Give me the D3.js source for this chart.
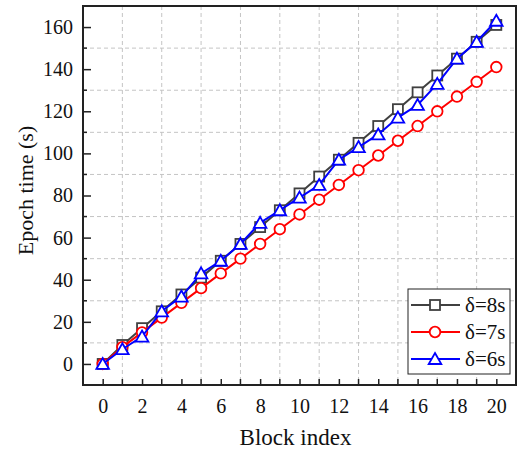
<!DOCTYPE html>
<html>
<head>
<meta charset="utf-8">
<script src="https://cdn.jsdelivr.net/npm/d3@7"></script>
<style>
  body { margin: 0; background: #fff; }
  svg text { font-family: "Liberation Serif", "Times New Roman", serif; }
</style>
</head>
<body>
<div id="chart"></div>
<script>
var blockIndex = d3.range(0, 21);
var delta8 = [0, 9, 17, 25, 33, 41, 49, 57, 65, 73, 81, 89, 97, 105, 113, 121, 129, 137, 145, 153, 161];
var delta7 = [0, 8, 15, 22, 29, 36, 43, 50, 57, 64, 71, 78, 85, 92, 99, 106, 113, 120, 127, 134, 141];
var delta6 = [0, 7, 13, 25, 32, 43, 49, 57, 67, 73, 79, 85, 97, 103, 109, 117, 123, 133, 145, 153, 163];
var seriesNames = ["\u03b4=8s", "\u03b4=7s", "\u03b4=6s"];
var xTicks = [0, 2, 4, 6, 8, 10, 12, 14, 16, 18, 20];
var yTicks = [0, 20, 40, 60, 80, 100, 120, 140, 160];

var W = 519, H = 451;
var margin = { top: 6, right: 3, bottom: 66, left: 83 },
    width = W - margin.left - margin.right,
    height = H - margin.top - margin.bottom;

var svg = d3.select("#chart")
    .append("svg")
    .attr("width", W)
    .attr("height", H)
    .append("g")
    .attr("transform", "translate(" + margin.left + "," + margin.top + ")");

var x = d3.scaleLinear().domain([-1, 21]).range([0, width]);
var y = d3.scaleLinear().domain([-10, 170]).range([height, 0]);

// grid sits on the minor positions
var xMinor = d3.range(1, 21, 2);
var yMinor = d3.range(10, 170, 20);

svg.append("g").selectAll("line")
    .data(xMinor).enter().append("line")
    .attr("x1", function (d) { return x(d); })
    .attr("x2", function (d) { return x(d); })
    .attr("y1", 0).attr("y2", height)
    .attr("stroke", "#c4c4c4").attr("stroke-width", 1)
    .attr("stroke-dasharray", "4,3");

svg.append("g").selectAll("line")
    .data(yMinor).enter().append("line")
    .attr("y1", function (d) { return y(d); })
    .attr("y2", function (d) { return y(d); })
    .attr("x1", 0).attr("x2", width)
    .attr("stroke", "#c4c4c4").attr("stroke-width", 1)
    .attr("stroke-dasharray", "4,3");

// axes, ticks inward
var xAxis = svg.append("g")
    .attr("transform", "translate(0," + height + ")")
    .call(d3.axisBottom(x).tickValues(xTicks).tickSize(-6).tickPadding(14).tickFormat(d3.format("d")));
var yAxis = svg.append("g")
    .call(d3.axisLeft(y).tickValues(yTicks).tickSize(-8).tickPadding(10).tickFormat(d3.format("d")));

[xAxis, yAxis].forEach(function (a) {
    a.select(".domain").remove();
    a.selectAll("line").attr("stroke", "#222").attr("stroke-width", 1.5);
    a.selectAll("text")
        .attr("fill", "#111")
        .style("font-size", "20px")
        .style("font-family", "Liberation Serif");
});

// minor ticks
svg.append("g").selectAll("line")
    .data(xMinor).enter().append("line")
    .attr("x1", function (d) { return x(d); })
    .attr("x2", function (d) { return x(d); })
    .attr("y1", height).attr("y2", height - 6)
    .attr("stroke", "#222").attr("stroke-width", 1.5);
svg.append("g").selectAll("line")
    .data(yMinor).enter().append("line")
    .attr("y1", function (d) { return y(d); })
    .attr("y2", function (d) { return y(d); })
    .attr("x1", 0).attr("x2", 4)
    .attr("stroke", "#222").attr("stroke-width", 1.5);

// frame
svg.append("rect")
    .attr("x", 0).attr("y", 0)
    .attr("width", width).attr("height", height)
    .attr("fill", "none")
    .attr("stroke", "#222")
    .attr("stroke-width", 2);

// axis titles
svg.append("text")
    .attr("x", x(10) - 4)
    .attr("y", height + 60)
    .attr("text-anchor", "middle")
    .attr("fill", "#111")
    .style("font-family", "Liberation Serif")
    .style("font-size", "23px")
    .text("Block index");

svg.append("text")
    .attr("transform", "rotate(-90)")
    .attr("x", -(y(80) - 5))
    .attr("y", -50)
    .attr("text-anchor", "middle")
    .attr("fill", "#111")
    .style("font-family", "Liberation Serif")
    .style("font-size", "22px")
    .text("Epoch time (s)");

// series
var series = [
    { name: seriesNames[0], values: delta8, color: "#404040", shape: "square" },
    { name: seriesNames[1], values: delta7, color: "#ff0000", shape: "circle" },
    { name: seriesNames[2], values: delta6, color: "#0000ff", shape: "triangle" }
];

function drawMarker(g, shape, color, cx, cy) {
    if (shape === "square") {
        g.append("rect")
            .attr("x", cx - 5).attr("y", cy - 5)
            .attr("width", 10).attr("height", 10)
            .attr("fill", "#fff").attr("stroke", color).attr("stroke-width", 1.8);
    } else if (shape === "circle") {
        g.append("circle")
            .attr("cx", cx).attr("cy", cy).attr("r", 5.3)
            .attr("fill", "#fff").attr("stroke", color).attr("stroke-width", 1.8);
    } else {
        g.append("path")
            .attr("d", "M" + cx + "," + (cy - 6) + "L" + (cx + 6.3) + "," + (cy + 5) + "L" + (cx - 6.3) + "," + (cy + 5) + "Z")
            .attr("fill", "#fff").attr("stroke", color).attr("stroke-width", 1.8);
    }
}

var line = d3.line()
    .x(function (d, i) { return x(blockIndex[i]); })
    .y(function (d) { return y(d); });

series.forEach(function (s) {
    var g = svg.append("g");
    g.append("path")
        .datum(s.values)
        .attr("fill", "none")
        .attr("stroke", s.color)
        .attr("stroke-width", 2)
        .attr("d", line);
    s.values.forEach(function (v, i) {
        drawMarker(g, s.shape, s.color, x(blockIndex[i]), y(v));
    });
});

// legend
var lg = svg.append("g")
    .attr("transform", "translate(" + (408 - margin.left) + "," + (289 - margin.top) + ")");
lg.append("rect")
    .attr("width", 102).attr("height", 85)
    .attr("fill", "#fff").attr("stroke", "#222").attr("stroke-width", 1);
series.forEach(function (s, i) {
    var ly = 16 + i * 27;
    lg.append("line")
        .attr("x1", 3).attr("x2", 52)
        .attr("y1", ly).attr("y2", ly)
        .attr("stroke", s.color).attr("stroke-width", 2);
    drawMarker(lg, s.shape, s.color, 27, ly);
    lg.append("text")
        .attr("x", 57).attr("y", ly + 7)
        .attr("fill", "#111")
        .style("font-family", "Liberation Serif")
        .style("font-size", "21px")
        .text(s.name);
});
</script>
</body>
</html>
